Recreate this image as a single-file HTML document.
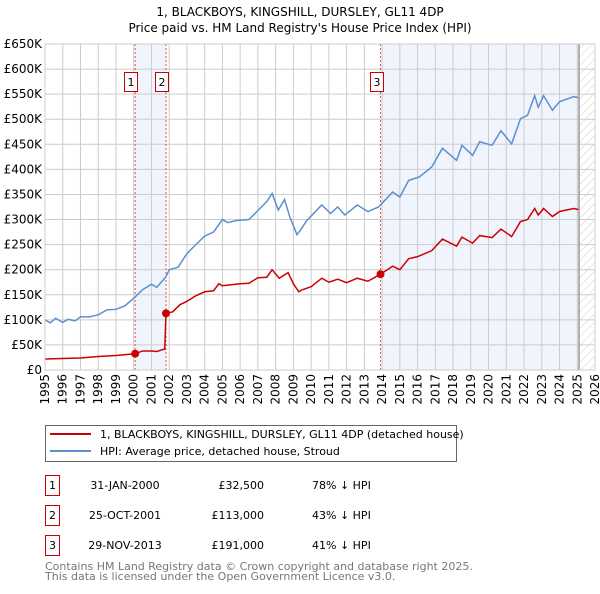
<!DOCTYPE html>
<html><head><meta charset="utf-8"><style>
body{margin:0;background:#fff;font-family:"DejaVu Sans","Liberation Sans",sans-serif;}
svg text{font-family:"DejaVu Sans","Liberation Sans",sans-serif;}
</style></head><body>
<svg id="chart" width="600" height="590" xmlns="http://www.w3.org/2000/svg">
<defs><pattern id="hatch" width="6" height="6" patternUnits="userSpaceOnUse" patternTransform="rotate(45)"><line x1="0" y1="0" x2="0" y2="6" stroke="#ccc" stroke-width="1"/></pattern></defs>
<text x="300" y="16" text-anchor="middle" font-size="12">1, BLACKBOYS, KINGSHILL, DURSLEY, GL11 4DP</text>
<text x="300" y="32" text-anchor="middle" font-size="12">Price paid vs. HM Land Registry's House Price Index (HPI)</text>
<g id="plot"></g>
<g>
<rect x="45.5" y="425.5" width="411" height="36" fill="#fff" stroke="#666"/>
<line x1="50" y1="434" x2="91" y2="434" stroke="#cc0000" stroke-width="2"/>
<text x="100" y="438" font-size="11">1, BLACKBOYS, KINGSHILL, DURSLEY, GL11 4DP (detached house)</text>
<line x1="50" y1="451" x2="91" y2="451" stroke="#5b8fd0" stroke-width="2"/>
<text x="100" y="455" font-size="11">HPI: Average price, detached house, Stroud</text>
</g>
<g font-size="11">
<rect x="45.5" y="475.5" width="14" height="20" fill="none" stroke="#cc0000"/><text x="52.5" y="489" text-anchor="middle">1</text>
<text x="125" y="489" text-anchor="middle">31-JAN-2000</text><text x="264" y="489" text-anchor="end">£32,500</text><text x="312" y="489">78% ↓ HPI</text>
<rect x="45.5" y="505.5" width="14" height="20" fill="none" stroke="#cc0000"/><text x="52.5" y="519" text-anchor="middle">2</text>
<text x="125" y="519" text-anchor="middle">25-OCT-2001</text><text x="264" y="519" text-anchor="end">£113,000</text><text x="312" y="519">43% ↓ HPI</text>
<rect x="45.5" y="535.5" width="14" height="20" fill="none" stroke="#cc0000"/><text x="52.5" y="549" text-anchor="middle">3</text>
<text x="125" y="549" text-anchor="middle">29-NOV-2013</text><text x="264" y="549" text-anchor="end">£191,000</text><text x="312" y="549">41% ↓ HPI</text>
</g>
<text x="45" y="570" font-size="11" fill="#777">Contains HM Land Registry data © Crown copyright and database right 2025.</text>
<text x="45" y="580" font-size="11" fill="#777">This data is licensed under the Open Government Licence v3.0.</text>
</svg>
<script>
const hpiYears=[1995.0,1995.3,1995.6,1996.0,1996.3,1996.7,1997.0,1997.5,1998.0,1998.5,1999.0,1999.5,2000.0,2000.5,2001.0,2001.3,2001.8,2002.0,2002.5,2003.0,2003.5,2004.0,2004.5,2005.0,2005.3,2005.8,2006.5,2007.0,2007.5,2007.8,2008.15,2008.5,2008.8,2009.2,2009.4,2009.75,2010.6,2011.1,2011.5,2011.9,2012.6,2013.2,2013.8,2014.6,2015.0,2015.5,2016.1,2016.8,2017.4,2018.2,2018.5,2019.1,2019.5,2020.2,2020.7,2021.3,2021.8,2022.2,2022.6,2022.8,2023.1,2023.6,2024.0,2024.8,2025.05];
const hpiValues=[100,94,103,95,101,98,106,106,110,120,121,128,143,160,171,165,185,200,205,232,250,267,275,300,294,298,300,318,336,352,319,340,305,270,279,298,329,312,325,309,329,316,325,355,345,378,385,405,442,418,448,428,455,448,477,451,501,508,547,524,547,518,535,545,543];
const priceYears=[1995.0,1997.0,1998.0,1999.0,2000.08,2000.5,2001.0,2001.3,2001.75,2001.82,2002.2,2002.6,2003.0,2003.5,2004.0,2004.5,2004.8,2005.0,2006.0,2006.5,2007.0,2007.5,2007.8,2008.2,2008.7,2009.0,2009.3,2009.5,2010.0,2010.6,2011.0,2011.5,2012.0,2012.6,2013.2,2013.91,2014.6,2015.0,2015.5,2016.0,2016.8,2017.4,2018.2,2018.5,2019.1,2019.5,2020.2,2020.7,2021.3,2021.8,2022.2,2022.6,2022.8,2023.1,2023.6,2024.0,2024.8,2025.05];
const priceValues=[22,24,27,29,32.5,38,38,37,42,113,116,130,137,148,156,158,172,168,172,173,184,185,200,183,194,172,156,160,166,183,175,181,174,183,177,191,207,200,222,226,238,261,247,265,253,268,264,281,266,296,300,322,309,322,306,316,322,320];
const saleYears=[2000.08,2001.82,2013.91];
const saleValues=[32.5,113,191];
const saleLabels=["1","2","3"];
const yTicks=[0,50,100,150,200,250,300,350,400,450,500,550,600,650];
const yTickLabels=["£0","£50K","£100K","£150K","£200K","£250K","£300K","£350K","£400K","£450K","£500K","£550K","£600K","£650K"];
const xTicks=[1995,1996,1997,1998,1999,2000,2001,2002,2003,2004,2005,2006,2007,2008,2009,2010,2011,2012,2013,2014,2015,2016,2017,2018,2019,2020,2021,2022,2023,2024,2025,2026];
const dataEnd=2025.1;

const X0=45,X1=595,Y0=370,Y1=44;
const sx=y=>X0+(y-1995)/(2026-1995)*(X1-X0);
const sy=v=>Y0-v/650*(Y0-Y1);
const NS="http://www.w3.org/2000/svg";
const g=document.getElementById('plot');
function mk(t,a){const e=document.createElementNS(NS,t);for(const k in a)e.setAttribute(k,a[k]);g.appendChild(e);return e;}
let e;
e=mk('rect',{x:sx(saleYears[0]),y:Y1,width:sx(saleYears[1])-sx(saleYears[0]),height:Y0-Y1,fill:'#f0f4fc'});


e=mk('rect',{x:sx(saleYears[2]),y:Y1,width:sx(dataEnd)-sx(saleYears[2]),height:Y0-Y1,fill:'#f0f4fc'});


e=mk('rect',{x:sx(dataEnd),y:Y1,width:X1-sx(dataEnd),height:Y0-Y1,fill:'url(#hatch)'});


yTicks.forEach((v,i)=>{
 e=mk('line',{x1:X0,x2:X1,y1:sy(v),y2:sy(v),stroke:'#ccc'});
 
 
 e=mk('text',{x:X0-3,y:sy(v)+4,'text-anchor':'end','font-size':'12'});
 e.textContent=yTickLabels[i];
 
 
});
xTicks.forEach(y=>{
 e=mk('line',{x1:sx(y),x2:sx(y),y1:Y1,y2:Y0,stroke:'#ccc'});
 
 
 e=mk('text',{x:0,y:0,'text-anchor':'end','font-size':'12',transform:`translate(${sx(y)+4},${Y0+4}) rotate(-90)`});
 e.textContent=y;
 
 
});
e=mk('line',{x1:sx(dataEnd),x2:sx(dataEnd),y1:Y1,y2:Y0,stroke:'#999','stroke-width':1.5});


saleYears.forEach((y,i)=>{
 e=mk('line',{x1:sx(y),x2:sx(y),y1:Y1,y2:Y0,stroke:'#e05050','stroke-dasharray':'2,2'});
 
 
});
e=mk('polyline',{points:hpiYears.map((y,i)=>sx(y)+','+sy(hpiValues[i])).join(' '),fill:'none',stroke:'#5b8fd0','stroke-width':1.5});


e=mk('polyline',{points:priceYears.map((y,i)=>sx(y)+','+sy(priceValues[i])).join(' '),fill:'none',stroke:'#cc0000','stroke-width':1.5});


saleYears.forEach((y,i)=>{
 e=mk('circle',{cx:sx(y),cy:sy(saleValues[i]),r:4,fill:'#cc0000'});
 
 
 e=mk('rect',{x:Math.round(sx(y))-10.5,y:72.5,width:13,height:19,fill:'#fff',stroke:'#cc0000'});
 
 
 e=mk('text',{x:Math.round(sx(y))-4,y:86,'text-anchor':'middle','font-size':'11'});
 e.textContent=saleLabels[i];
 
 
});
e=mk('rect',{x:X0,y:Y1,width:X1-X0,height:Y0-Y1,fill:'none',stroke:'#ccc'});


</script>
</body></html>
